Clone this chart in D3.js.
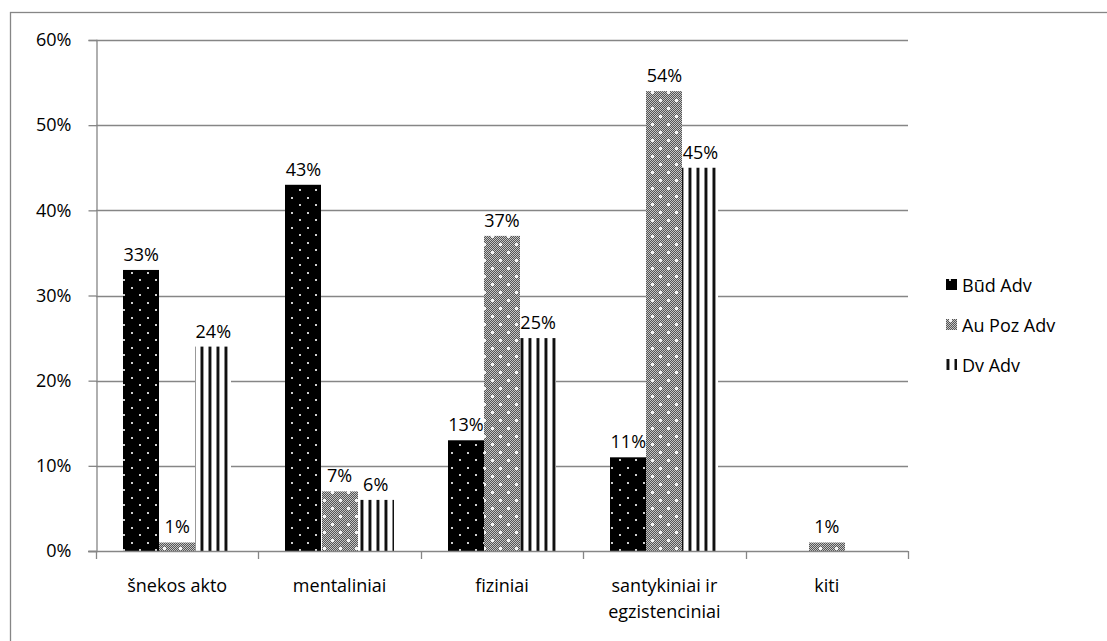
<!DOCTYPE html>
<html>
<head>
<meta charset="utf-8">
<script src="https://cdn.jsdelivr.net/npm/d3@7"></script>
<style>
  html, body { margin: 0; padding: 0; background: #fff; }
  svg { display: block; }
  text { font-family: "Open Sans", Lato, sans-serif; fill: #000; }
</style>
</head>
<body>
<div id="chart"></div>
<script>
// Verb groups along the category axis
const categories = [
  ["šnekos akto"],
  ["mentaliniai"],
  ["fiziniai"],
  ["santykiniai ir", "egzistenciniai"],
  ["kiti"]
];
const seriesNames = ["Būd Adv", "Au Poz Adv", "Dv Adv"];
// Share (%) per category for each series; null = no bar
const budAdv   = [33, 43, 13, 11, null];
const auPozAdv = [1, 7, 37, 54, 1];
const dvAdv    = [24, 6, 25, 45, null];
const yTicks   = [0, 10, 20, 30, 40, 50, 60];

const W = 1107, H = 641;
const plot = { left: 96, right: 908, top: 40, bottom: 551 };
const axisColor = "#868686";
const fontSize = "18px";

const svg = d3.select("#chart").append("svg")
  .attr("width", W).attr("height", H);

// ---- fill patterns ----
const defs = svg.append("defs");

// black with staggered white dots
const pDots = defs.append("pattern").attr("id", "pat-bud")
  .attr("patternUnits", "userSpaceOnUse").attr("width", 16).attr("height", 15);
pDots.append("rect").attr("width", 16).attr("height", 15).attr("fill", "#000");
pDots.append("rect").attr("x", 3).attr("y", 2).attr("width", 2).attr("height", 2).attr("fill", "#cfcfcf");
pDots.append("rect").attr("x", 11).attr("y", 9).attr("width", 2).attr("height", 2).attr("fill", "#cfcfcf");

// fine gray checker
const pChk = defs.append("pattern").attr("id", "pat-chk")
  .attr("patternUnits", "userSpaceOnUse").attr("width", 2).attr("height", 2);
pChk.append("rect").attr("width", 2).attr("height", 2).attr("fill", "#555");
pChk.append("rect").attr("width", 1).attr("height", 1).attr("fill", "#c4c4c4");
pChk.append("rect").attr("x", 1).attr("y", 1).attr("width", 1).attr("height", 1).attr("fill", "#c4c4c4");

// checker with white dot diamonds
const pAu = defs.append("pattern").attr("id", "pat-au")
  .attr("patternUnits", "userSpaceOnUse").attr("width", 16).attr("height", 16);
pAu.append("rect").attr("width", 16).attr("height", 16).attr("fill", "url(#pat-chk)");
[[3, 3], [11, 11]].forEach(([x, y]) => {
  pAu.append("rect").attr("x", x).attr("y", y).attr("width", 3).attr("height", 3).attr("fill", "#f4f4f4");
});

// vertical stripes
const pDv = defs.append("pattern").attr("id", "pat-dv")
  .attr("patternUnits", "userSpaceOnUse").attr("width", 8).attr("height", 8);
pDv.append("rect").attr("width", 8).attr("height", 8).attr("fill", "#fff");
pDv.append("rect").attr("x", 0).attr("width", 1).attr("height", 8).attr("fill", "#888");
pDv.append("rect").attr("x", 1).attr("width", 2).attr("height", 8).attr("fill", "#111");
pDv.append("rect").attr("x", 3).attr("width", 1).attr("height", 8).attr("fill", "#999");

const fills = ["url(#pat-bud)", "url(#pat-au)", "url(#pat-dv)"];

// ---- outer frame ----
svg.append("rect")
  .attr("x", 10.5).attr("y", 12.5)
  .attr("width", W + 20).attr("height", H + 20)
  .attr("fill", "none").attr("stroke", axisColor).attr("stroke-width", 1.3);

// ---- scales ----
const x0 = d3.scaleBand()
  .domain(d3.range(categories.length))
  .range([plot.left, plot.right])
  .paddingInner(0).paddingOuter(0);
const x1 = d3.scaleBand()
  .domain(d3.range(seriesNames.length))
  .range([0, x0.bandwidth()])
  .paddingOuter(0.75).paddingInner(0);
const y = d3.scaleLinear().domain([0, 60]).range([plot.bottom, plot.top]);

// ---- gridlines ----
svg.append("g").selectAll("line")
  .data(yTicks.filter(t => t > 0))
  .join("line")
  .attr("x1", plot.left).attr("x2", plot.right)
  .attr("y1", d => Math.round(y(d)) + 0.5).attr("y2", d => Math.round(y(d)) + 0.5)
  .attr("stroke", axisColor).attr("stroke-width", 1.3);

// ---- y axis ----
const yAxis = svg.append("g")
  .attr("transform", `translate(${plot.left + 0.5},0)`)
  .call(d3.axisLeft(y).tickValues(yTicks).tickFormat(d => d + "%").tickSize(8).tickPadding(17));
yAxis.select(".domain").attr("stroke", axisColor).attr("stroke-width", 1.3);
yAxis.selectAll(".tick line").attr("stroke", axisColor).attr("stroke-width", 1.3);
yAxis.selectAll(".tick text")
  .style("font-family", "'Open Sans', Lato, sans-serif")
  .style("font-size", fontSize).attr("fill", "#000");

// ---- bars ----
const series = [budAdv, auPozAdv, dvAdv];
const barData = [];
series.forEach((vals, s) => vals.forEach((v, c) => {
  if (v !== null) barData.push({ s, c, v });
}));

svg.append("g").selectAll("rect")
  .data(barData)
  .join("rect")
  .attr("x", d => Math.round(x0(d.c) + x1(d.s)))
  .attr("y", d => y(d.v))
  .attr("width", Math.round(x1.bandwidth()))
  .attr("height", d => plot.bottom - y(d.v))
  .attr("fill", d => fills[d.s]);

// value labels
svg.append("g").selectAll("text")
  .data(barData)
  .join("text")
  .attr("x", d => x0(d.c) + x1(d.s) + x1.bandwidth() / 2)
  .attr("y", d => y(d.v) - 9)
  .attr("text-anchor", "middle")
  .style("font-size", fontSize)
  .text(d => d.v + "%");

// ---- x axis ----
svg.append("line")
  .attr("x1", plot.left - 8).attr("x2", plot.right)
  .attr("y1", plot.bottom + 0.5).attr("y2", plot.bottom + 0.5)
  .attr("stroke", axisColor).attr("stroke-width", 1.3);
const bounds = d3.range(categories.length + 1).map(i =>
  i < categories.length ? x0(i) : plot.right);
svg.append("g").selectAll("line")
  .data(bounds)
  .join("line")
  .attr("x1", d => Math.round(d) + 0.5).attr("x2", d => Math.round(d) + 0.5)
  .attr("y1", plot.bottom).attr("y2", plot.bottom + 8)
  .attr("stroke", axisColor).attr("stroke-width", 1.3);

const catLabels = svg.append("g").selectAll("text")
  .data(categories)
  .join("text")
  .attr("x", (d, i) => x0(i) + x0.bandwidth() / 2)
  .attr("y", 592)
  .attr("text-anchor", "middle")
  .style("font-size", fontSize);
catLabels.selectAll("tspan")
  .data(d => d)
  .join("tspan")
  .attr("x", function () { return d3.select(this.parentNode).attr("x"); })
  .attr("dy", (d, i) => i === 0 ? 0 : 26)
  .text(d => d);

// ---- legend ----
const legend = svg.append("g").selectAll("g")
  .data(seriesNames)
  .join("g")
  .attr("transform", (d, i) => `translate(946, ${292 + i * 40})`);
legend.append("rect")
  .attr("x", 0).attr("y", -13).attr("width", 11).attr("height", 11)
  .attr("fill", (d, i) => fills[i]);
legend.append("text")
  .attr("x", 16).attr("y", 0)
  .style("font-size", fontSize)
  .text(d => d);
</script>
</body>
</html>
